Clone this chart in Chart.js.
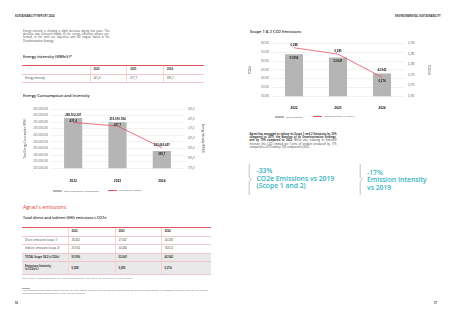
<!DOCTYPE html>
<html>
<head>
<meta charset="utf-8">
<script src="https://cdn.jsdelivr.net/npm/chart.js@4.4.1/dist/chart.umd.min.js"></script>
<style>
  html, body { margin: 0; padding: 0; background: #fff; }
  body { width: 453px; height: 320px; position: relative; overflow: hidden; font-family: "Open Sans", Lato, sans-serif; color: #333; }
  .abs { position: absolute; white-space: nowrap; line-height: 1; }
  .runhead { font-size: 2.6px; font-weight: 700; letter-spacing: 0.05px; color: #333; }
  .para { position: absolute; font-size: 2.6px; line-height: 3.35px; text-align: justify; color: #444; }
  .h2 { font-size: 4px; font-weight: 600; color: #222; }
  .red { color: #e2403a; }
  table { position: absolute; border-collapse: collapse; font-size: 2.7px; color: #333; table-layout: fixed; }
  td { padding: 0 0 0 3px; vertical-align: middle; border-bottom: 0.5px solid #f0c6ca; border-left: 0.5px solid #f3d3d6; line-height: 1.3; }
  td:first-child { border-left: none; }
  tr.head td { font-weight: 700; border-top: 0.7px solid #e4545c; }
  tr.grey td { background: #e9e9e9; font-weight: 700; }
  canvas { position: absolute; }
  .legend { position: absolute; font-size: 2.3px; color: #555; white-space: nowrap; line-height: 1; }
  .legend i { display: inline-block; vertical-align: middle; width: 9px; margin-right: 2px; }
  .callout { position: absolute; color: #37b4bf; font-size: 6.8px; font-weight: 600; line-height: 7.7px; white-space: nowrap; }
  .brace { position: absolute; }
</style>
</head>
<body>

<div class="abs runhead" style="left:15px; top:14.5px;">SUSTAINABILITY REPORT 2024</div>
<div class="abs runhead" style="left:395px; top:14.5px;">ENVIRONMENTAL SUSTAINABILITY</div>

<div class="para" style="left:23px; top:29.5px; width:86.5px;">Energy intensity is showing a slight decrease during last years. This decrease was achieved thanks to the energy efficiency actions per-formed, in line with our objectives and the targets stated in the Decarbonization Strategy.</div>

<div class="abs h2" style="left:23px; top:55.3px;">Energy intensity (KWh/t)*</div>
<table id="tblIntensity" style="left:22px; top:65px; width:182px;">
  <colgroup><col style="width:68px"><col style="width:36.7px"><col style="width:36.6px"><col style="width:40.7px"></colgroup>
</table>

<div class="abs h2" style="left:23px; top:94px;">Energy Consumption and Intensity</div>
<canvas id="energyChart" width="192" height="84" style="left:20px; top:103px;"></canvas>
<div class="legend" style="left:53px; top:189.6px;"><i style="height:2px; background:#b5b5b5;"></i>Total Gross Energy Consumption</div>
<div class="legend" style="left:108px; top:189.6px;"><i style="height:0.7px; background:#e4535f;"></i>Total Energy Intensity</div>

<div class="abs" style="left:23px; top:205.3px; font-size:5.2px; color:#e2403a;">Agrati's emissions</div>
<div class="abs h2" style="left:23px; top:215.8px; font-size:3.7px;">Total direct and indirect GHG emissions t.CO2e</div>
<table id="tblEmissions" style="left:22px; top:226.7px; width:189px;">
  <colgroup><col style="width:46px"><col style="width:47px"><col style="width:46px"><col style="width:50px"></colgroup>
</table>
<div class="abs" style="left:22px; top:278.3px; font-size:1.9px; color:#777;">Source: Scope 1 emission factors DEFRA2024, Scope 2 emission factors AIB/RE-DISS for Italy and Terna/IEA for other countries.</div>
<div class="abs" style="left:22px; top:287.5px; width:8px; border-top:0.3px solid #aaa;"></div>
<div class="para" style="left:22px; top:289.6px; width:186px; font-size:1.9px; line-height:2.9px; color:#666;">* The organization-specific metric chosen to calculate the energy intensity indicator is the sum (completed production) of each step of production process, of all workshops expressed in tons. The type of energy included in the intensity ratio are electricity, diesel, LPG and natural gas.</div>
<div class="abs" style="left:15px; top:302px; font-size:2.6px; font-weight:700; color:#444;">56</div>

<div class="abs h2" style="left:250px; top:30.3px;">Scope 1 &amp; 2 CO2 Emissions</div>
<canvas id="scopeChart" width="194" height="76" style="left:246px; top:38px;"></canvas>
<div class="legend" style="left:275px; top:115.6px;"><i style="height:2px; background:#b5b5b5;"></i>Total Emissions</div>
<div class="legend" style="left:313px; top:115.6px;"><i style="height:0.7px; background:#e4535f;"></i>Emission Intensity (t.CO2e/t.)</div>

<div class="para" style="left:249.5px; top:132.5px; width:87px; color:#333;"><b>Agrati has managed to reduce its Scope 1 and 2 Emissions by 33% compared to 2019, the Baseline of its Decarbonization Strategy, and by 19% compared to 2022.</b> Whilst also reducing its Emission Intensity (the CO2 emitted per Tonne of product produced) by 17% compared to 2019 and by 12% compared to 2022.</div>

<svg class="brace" style="left:248px; top:164px;" width="6" height="31" viewBox="0 0 6 31"><path d="M1.2 0 V13.3 L3.4 15.3 L1.2 17.3 V31" fill="none" stroke="#9a9a9a" stroke-width="0.6"/></svg>
<div class="callout" style="left:256.5px; top:167px;">-33%<br>CO2e Emissions vs 2019<br>(Scope 1 and 2)</div>
<svg class="brace" style="left:359px; top:164px;" width="6" height="31" viewBox="0 0 6 31"><path d="M1.2 0 V13.3 L3.4 15.3 L1.2 17.3 V31" fill="none" stroke="#9a9a9a" stroke-width="0.6"/></svg>
<div class="callout" style="left:367px; top:168.5px;">-17%<br>Emission Intensity<br>vs 2019</div>
<div class="abs" style="left:434px; top:302px; font-size:2.6px; font-weight:700; color:#444;">57</div>

<script>
const years = ['2022', '2023', '2024'];
const energyConsumption = [258102207, 255010184, 233063407];
const energyIntensity = [421.4, 417.7, 395.7];
const scope1 = [28402, 27547, 24328];
const scope2 = [25554, 24494, 18614];
const totalEmissions = [53956, 52041, 42942];
const emissionIntensity = [0.288, 0.285, 0.274];

const energyTicks = { min: 220000000, max: 265000000, step: 5000000 };
const energyIntensityTicks = { min: 375, max: 435, step: 5 };
const scopeTicks = { min: 30000, max: 60000, step: 5000 };
const scopeIntensityTicks = { min: 0.265, max: 0.290, step: 0.005 };

const dots = v => String(Math.round(v)).replace(/\B(?=(\d{3})+(?!\d))/g, '.');
const comma = (v, d) => v.toFixed(d).replace('.', ',');

const GREY = '#b5b5b5';
const RED = '#e4535f';
const FONT = '"Open Sans", Lato, sans-serif';

// tables
function addRow(table, cls, height, cells) {
    const tr = document.createElement('tr');
    if (cls) tr.className = cls;
    tr.style.height = height + 'px';
    cells.forEach(c => {
        const td = document.createElement('td');
        td.innerHTML = c;
        tr.appendChild(td);
    });
    table.appendChild(tr);
}

const t1 = document.getElementById('tblIntensity');
addRow(t1, 'head', 9, [''].concat(years));
addRow(t1, '', 8.3, ['Energy intensity'].concat(energyIntensity.map(v => comma(v, 1))));

const t2 = document.getElementById('tblEmissions');
addRow(t2, 'head', 9, [''].concat(years));
addRow(t2, '', 8.6, ['Direct emissions (scope 1)'].concat(scope1.map(dots)));
addRow(t2, '', 8.7, ['Indirect emissions (scope 2)'].concat(scope2.map(dots)));
addRow(t2, 'grey', 8.5, ['TOTAL Scope 1&amp;2 (t.CO2e)'].concat(totalEmissions.map(dots)));
addRow(t2, 'grey', 12.8, ['Emissions Intensity<br>(t.CO2e/t.)'].concat(emissionIntensity.map(v => comma(v, 3))));

// labels on bars and line points
const valueLabels = {
    id: 'valueLabels',
    afterDatasetsDraw(chart, args, opts) {
        const ctx = chart.ctx;
        const bars = chart.getDatasetMeta(0).data;
        const pts = chart.getDatasetMeta(1).data;
        ctx.save();
        ctx.font = 'bold 2.8px ' + FONT;
        ctx.fillStyle = '#222';
        ctx.textAlign = 'center';
        ctx.textBaseline = 'middle';
        bars.forEach((bar, i) => {
            const pos = opts.place(bar.y, pts[i].y);
            ctx.fillText(opts.barText(i), bar.x, pos.bar);
            ctx.fillText(opts.lineText(i), bar.x, pos.line);
        });
        ctx.restore();
    }
};

function makeChart(id, bars, line, leftT, rightT, o) {
    return new Chart(document.getElementById(id), {
        type: 'bar',
        data: {
            labels: years,
            datasets: [
                {
                    type: 'bar',
                    data: bars,
                    backgroundColor: GREY,
                    yAxisID: 'y',
                    categoryPercentage: 1,
                    barPercentage: 0.41,
                    order: 2
                },
                {
                    type: 'line',
                    data: line,
                    borderColor: RED,
                    borderWidth: 0.8,
                    pointRadius: 0,
                    tension: 0,
                    yAxisID: 'y1',
                    order: 1
                }
            ]
        },
        plugins: [valueLabels],
        options: {
            responsive: false,
            animation: false,
            layout: { padding: { top: o.padTop, bottom: o.padBottom, left: 0, right: 0 } },
            plugins: {
                legend: { display: false },
                tooltip: { enabled: false },
                valueLabels: { place: o.place, barText: o.barText, lineText: o.lineText }
            },
            scales: {
                x: {
                    grid: { display: false },
                    border: { display: false },
                    ticks: { font: { size: 3.2, weight: 'bold', family: FONT }, color: '#222', padding: o.xPad }
                },
                y: {
                    position: 'left',
                    min: leftT.min,
                    max: leftT.max,
                    ticks: { stepSize: leftT.step, callback: o.leftFmt, font: { size: 2.6, family: FONT }, color: '#666', padding: 3 },
                    grid: { color: '#e4e4e4', lineWidth: 0.5, drawTicks: false },
                    border: { display: false },
                    title: { display: true, text: o.leftTitle, font: { size: 2.6, family: FONT }, color: '#444', padding: { top: o.leftTitlePad, bottom: 0 } },
                    afterFit(s) { s.width = o.leftW; }
                },
                y1: {
                    position: 'right',
                    min: rightT.min,
                    max: rightT.max,
                    ticks: { stepSize: rightT.step, callback: o.rightFmt, font: { size: 2.6, family: FONT }, color: '#666', padding: 4 },
                    grid: { display: false, drawTicks: false },
                    border: { display: false },
                    title: { display: true, text: o.rightTitle, font: { size: 2.6, family: FONT }, color: '#444', padding: { top: o.rightTitlePad, bottom: 0 } },
                    afterFit(s) { s.width = o.rightW; }
                }
            }
        }
    });
}

makeChart('energyChart', energyConsumption, energyIntensity, energyTicks, energyIntensityTicks, {
    padTop: 6, padBottom: 1, xPad: 3,
    leftW: 31, rightW: 28,
    leftTitle: 'Total Energy Consumption (KWh)', rightTitle: 'Energy Intensity (KWh/t)',
    leftTitlePad: 3.4, rightTitlePad: 7.4,
    leftFmt: v => dots(v), rightFmt: v => comma(v, 1),
    place: (barTop, pointY) => ({ bar: Math.min(barTop, pointY) - 3, line: barTop + 3.5 }),
    barText: i => dots(energyConsumption[i]),
    lineText: i => comma(energyIntensity[i], 1)
});

makeChart('scopeChart', totalEmissions, emissionIntensity, scopeTicks, scopeIntensityTicks, {
    padTop: 5, padBottom: 1, xPad: 2.5,
    leftW: 26, rightW: 36,
    leftTitle: 'TCO2e', rightTitle: 'TCO2e/t',
    leftTitlePad: 2.4, rightTitlePad: 9.4,
    leftFmt: v => dots(v), rightFmt: v => comma(v, 3),
    place: (barTop, pointY) => pointY < barTop
        ? { line: pointY - 3, bar: barTop + 4 }
        : { bar: barTop - 3, line: pointY + 4 },
    barText: i => dots(totalEmissions[i]),
    lineText: i => comma(emissionIntensity[i], 3)
});
</script>
</body>
</html>
